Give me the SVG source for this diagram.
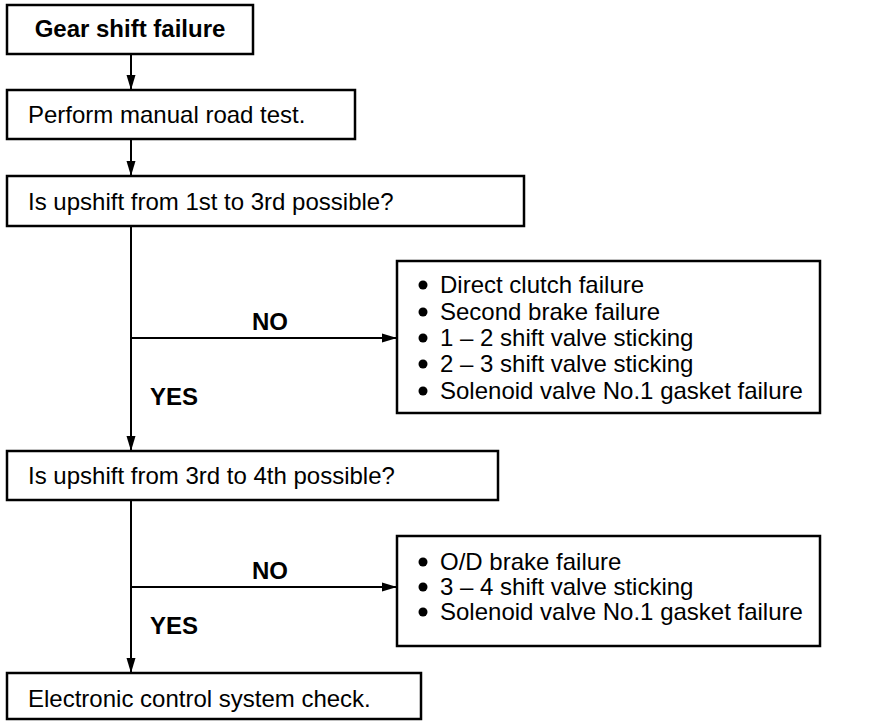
<svg xmlns="http://www.w3.org/2000/svg" width="878" height="722" viewBox="0 0 878 722">
<style>
.box{fill:#fff;stroke:#000;stroke-width:2.5}
.t{font-family:"Liberation Sans",Arial,sans-serif;font-size:24px;fill:#000}
.b{font-weight:bold}
.ln{fill:none;stroke:#000;stroke-width:2}
</style>
<defs>
<marker id="ah" markerWidth="15" markerHeight="10" refX="14" refY="5" orient="auto" markerUnits="userSpaceOnUse">
<path d="M0,0.5 L15,5 L0,9.5 Z" fill="#000"/>
</marker>
</defs>
<rect width="878" height="722" fill="#fff"/>
<g id="connectors">
<line class="ln" x1="131" y1="54" x2="131" y2="89" marker-end="url(#ah)"/>
<line class="ln" x1="131" y1="139" x2="131" y2="175" marker-end="url(#ah)"/>
<line class="ln" x1="131" y1="226" x2="131" y2="450" marker-end="url(#ah)"/>
<line class="ln" x1="131" y1="338" x2="396" y2="338" marker-end="url(#ah)"/>
<line class="ln" x1="131" y1="500" x2="131" y2="672" marker-end="url(#ah)"/>
<line class="ln" x1="131" y1="587" x2="396" y2="587" marker-end="url(#ah)"/>
<text class="t b" x="270" y="330" text-anchor="middle">NO</text>
<text class="t b" x="150" y="405">YES</text>
<text class="t b" x="270" y="579" text-anchor="middle">NO</text>
<text class="t b" x="150" y="634">YES</text>
</g>
<g id="start">
<rect class="box" x="7" y="5" width="246" height="49"/>
<text class="t b" x="130" y="37" text-anchor="middle">Gear shift failure</text>
</g>
<g id="road-test">
<rect class="box" x="7" y="90" width="348" height="49"/>
<text class="t" x="28" y="123">Perform manual road test.</text>
</g>
<g id="q1">
<rect class="box" x="7" y="176" width="517" height="50"/>
<text class="t" x="28" y="210">Is upshift from 1st to 3rd possible?</text>
</g>
<g id="causes1">
<rect class="box" x="397" y="261" width="423" height="152"/>
<circle cx="423" cy="285" r="4.5"/>
<circle cx="423" cy="312" r="4.5"/>
<circle cx="423" cy="338" r="4.5"/>
<circle cx="423" cy="364" r="4.5"/>
<circle cx="423" cy="391" r="4.5"/>
<text class="t" x="440" y="293">Direct clutch failure</text>
<text class="t" x="440" y="320">Second brake failure</text>
<text class="t" x="440" y="346">1 – 2 shift valve sticking</text>
<text class="t" x="440" y="372">2 – 3 shift valve sticking</text>
<text class="t" x="440" y="399">Solenoid valve No.1 gasket failure</text>
</g>
<g id="q2">
<rect class="box" x="7" y="451" width="491" height="49"/>
<text class="t" x="28" y="484">Is upshift from 3rd to 4th possible?</text>
</g>
<g id="causes2">
<rect class="box" x="397" y="536" width="423" height="110"/>
<circle cx="423" cy="562" r="4.5"/>
<circle cx="423" cy="587" r="4.5"/>
<circle cx="423" cy="612" r="4.5"/>
<text class="t" x="440" y="570">O/D brake failure</text>
<text class="t" x="440" y="595">3 – 4 shift valve sticking</text>
<text class="t" x="440" y="620">Solenoid valve No.1 gasket failure</text>
</g>
<g id="ecu-check">
<rect class="box" x="7" y="673" width="414" height="46"/>
<text class="t" x="28" y="707">Electronic control system check.</text>
</g>
</svg>
